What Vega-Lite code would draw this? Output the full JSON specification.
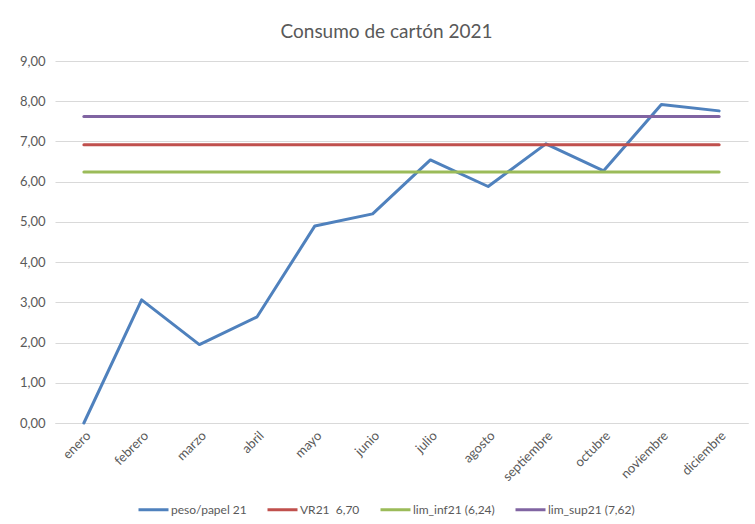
{
  "$schema": "https://vega.github.io/schema/vega-lite/v6.json",
  "width": 693,
  "height": 362,
  "autosize": {"type": "none"},
  "padding": {"left": 55, "top": 61, "right": 7, "bottom": 101},
  "background": "white",
  "title": {
    "text": "Consumo de cartón 2021",
    "font": "Lato",
    "fontSize": 19,
    "fontWeight": "normal",
    "color": "#595959",
    "anchor": "middle",
    "dx": -15,
    "offset": 13
  },
  "config": {
    "locale": {"number": {"decimal": ",", "thousands": ".", "grouping": [3], "currency": ["", " €"]}},
    "view": {"stroke": null},
    "font": "Lato"
  },
  "data": {
    "values": [
      {"mes": "enero", "serie": "peso/papel 21", "valor": 0.0},
      {"mes": "febrero", "serie": "peso/papel 21", "valor": 3.06},
      {"mes": "marzo", "serie": "peso/papel 21", "valor": 1.95},
      {"mes": "abril", "serie": "peso/papel 21", "valor": 2.64},
      {"mes": "mayo", "serie": "peso/papel 21", "valor": 4.9},
      {"mes": "junio", "serie": "peso/papel 21", "valor": 5.2},
      {"mes": "julio", "serie": "peso/papel 21", "valor": 6.54},
      {"mes": "agosto", "serie": "peso/papel 21", "valor": 5.88},
      {"mes": "septiembre", "serie": "peso/papel 21", "valor": 6.94},
      {"mes": "octubre", "serie": "peso/papel 21", "valor": 6.27},
      {"mes": "noviembre", "serie": "peso/papel 21", "valor": 7.92},
      {"mes": "diciembre", "serie": "peso/papel 21", "valor": 7.76},
      {"mes": "enero", "serie": "VR21 \u00a06,70", "valor": 6.92},
      {"mes": "febrero", "serie": "VR21 \u00a06,70", "valor": 6.92},
      {"mes": "marzo", "serie": "VR21 \u00a06,70", "valor": 6.92},
      {"mes": "abril", "serie": "VR21 \u00a06,70", "valor": 6.92},
      {"mes": "mayo", "serie": "VR21 \u00a06,70", "valor": 6.92},
      {"mes": "junio", "serie": "VR21 \u00a06,70", "valor": 6.92},
      {"mes": "julio", "serie": "VR21 \u00a06,70", "valor": 6.92},
      {"mes": "agosto", "serie": "VR21 \u00a06,70", "valor": 6.92},
      {"mes": "septiembre", "serie": "VR21 \u00a06,70", "valor": 6.92},
      {"mes": "octubre", "serie": "VR21 \u00a06,70", "valor": 6.92},
      {"mes": "noviembre", "serie": "VR21 \u00a06,70", "valor": 6.92},
      {"mes": "diciembre", "serie": "VR21 \u00a06,70", "valor": 6.92},
      {"mes": "enero", "serie": "lim_inf21 (6,24)", "valor": 6.24},
      {"mes": "febrero", "serie": "lim_inf21 (6,24)", "valor": 6.24},
      {"mes": "marzo", "serie": "lim_inf21 (6,24)", "valor": 6.24},
      {"mes": "abril", "serie": "lim_inf21 (6,24)", "valor": 6.24},
      {"mes": "mayo", "serie": "lim_inf21 (6,24)", "valor": 6.24},
      {"mes": "junio", "serie": "lim_inf21 (6,24)", "valor": 6.24},
      {"mes": "julio", "serie": "lim_inf21 (6,24)", "valor": 6.24},
      {"mes": "agosto", "serie": "lim_inf21 (6,24)", "valor": 6.24},
      {"mes": "septiembre", "serie": "lim_inf21 (6,24)", "valor": 6.24},
      {"mes": "octubre", "serie": "lim_inf21 (6,24)", "valor": 6.24},
      {"mes": "noviembre", "serie": "lim_inf21 (6,24)", "valor": 6.24},
      {"mes": "diciembre", "serie": "lim_inf21 (6,24)", "valor": 6.24},
      {"mes": "enero", "serie": "lim_sup21 (7,62)", "valor": 7.62},
      {"mes": "febrero", "serie": "lim_sup21 (7,62)", "valor": 7.62},
      {"mes": "marzo", "serie": "lim_sup21 (7,62)", "valor": 7.62},
      {"mes": "abril", "serie": "lim_sup21 (7,62)", "valor": 7.62},
      {"mes": "mayo", "serie": "lim_sup21 (7,62)", "valor": 7.62},
      {"mes": "junio", "serie": "lim_sup21 (7,62)", "valor": 7.62},
      {"mes": "julio", "serie": "lim_sup21 (7,62)", "valor": 7.62},
      {"mes": "agosto", "serie": "lim_sup21 (7,62)", "valor": 7.62},
      {"mes": "septiembre", "serie": "lim_sup21 (7,62)", "valor": 7.62},
      {"mes": "octubre", "serie": "lim_sup21 (7,62)", "valor": 7.62},
      {"mes": "noviembre", "serie": "lim_sup21 (7,62)", "valor": 7.62},
      {"mes": "diciembre", "serie": "lim_sup21 (7,62)", "valor": 7.62}
    ]
  },
  "mark": {"type": "line", "strokeWidth": 3, "strokeCap": "round", "strokeJoin": "round"},
  "encoding": {
    "x": {
      "field": "mes",
      "type": "ordinal",
      "sort": ["enero", "febrero", "marzo", "abril", "mayo", "junio", "julio", "agosto", "septiembre", "octubre", "noviembre", "diciembre"],
      "scale": {"type": "point", "padding": 0.5},
      "axis": {
        "title": null,
        "labelAngle": -45,
        "labelFontSize": 13,
        "labelColor": "#595959",
        "labelPadding": 6,
        "ticks": false,
        "domain": true,
        "domainColor": "#d9d9d9",
        "grid": false
      }
    },
    "y": {
      "field": "valor",
      "type": "quantitative",
      "scale": {"domain": [0, 9], "nice": false},
      "axis": {
        "title": null,
        "values": [0, 1, 2, 3, 4, 5, 6, 7, 8, 9],
        "format": ".2f",
        "labelFontSize": 13,
        "labelColor": "#595959",
        "labelPadding": 10,
        "ticks": false,
        "domain": false,
        "grid": true,
        "gridColor": "#d9d9d9",
        "gridWidth": 1
      }
    },
    "color": {
      "field": "serie",
      "type": "nominal",
      "sort": ["peso/papel 21", "VR21 \u00a06,70", "lim_inf21 (6,24)", "lim_sup21 (7,62)"],
      "scale": {
        "domain": ["peso/papel 21", "VR21 \u00a06,70", "lim_inf21 (6,24)", "lim_sup21 (7,62)"],
        "range": ["#4f81bd", "#c0504d", "#9bbb59", "#8064a2"]
      },
      "legend": {
        "title": null,
        "orient": "none",
        "legendX": 82,
        "legendY": 432,
        "direction": "horizontal",
        "symbolType": "stroke",
        "symbolStrokeWidth": 3,
        "symbolSize": 900,
        "labelFontSize": 12,
        "labelColor": "#595959",
        "columnPadding": 14,
        "labelOffset": 1
      }
    }
  }
}
